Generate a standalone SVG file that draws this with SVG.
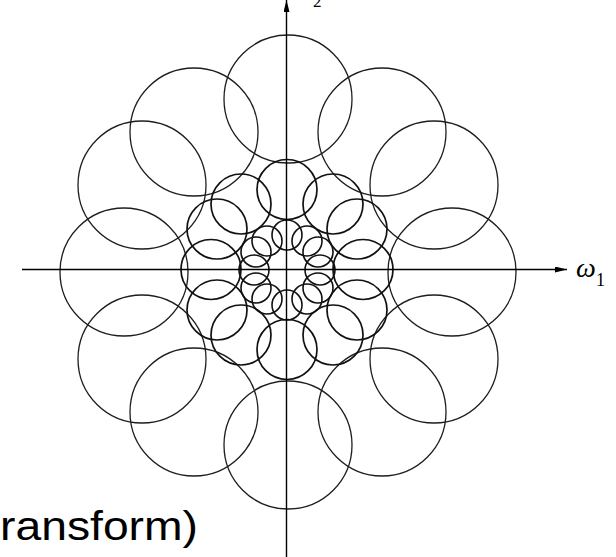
<svg xmlns="http://www.w3.org/2000/svg" width="616" height="557" viewBox="0 0 616 557">
<defs>
<style>
.big{fill:none;stroke:#1e1e1e;stroke-width:1.3}
.mid{fill:none;stroke:#111;stroke-width:1.7}
.sm{fill:none;stroke:#111;stroke-width:1.6}
.ax{stroke:#000;stroke-width:1.4;fill:none}
.lbl{font-family:"Liberation Serif",serif;fill:#000}
</style>
<marker id="ah" viewBox="0 0 12 6" refX="12" refY="3" markerWidth="12" markerHeight="6" markerUnits="userSpaceOnUse" orient="auto">
<path d="M0,0 L12,3 L0,6 Z" fill="#000"/>
</marker>
</defs>
<g id="ring-outer">
<circle class="big" cx="288" cy="99" r="64"/>
<circle class="big" cx="194" cy="132" r="64"/>
<circle class="big" cx="382" cy="132" r="64"/>
<circle class="big" cx="142" cy="185" r="64"/>
<circle class="big" cx="434" cy="185" r="64"/>
<circle class="big" cx="124" cy="272" r="64"/>
<circle class="big" cx="452" cy="272" r="64"/>
<circle class="big" cx="142" cy="359" r="64"/>
<circle class="big" cx="434" cy="359" r="64"/>
<circle class="big" cx="194" cy="412" r="64"/>
<circle class="big" cx="382" cy="412" r="64"/>
<circle class="big" cx="288" cy="445" r="64"/>
</g>
<g id="ring-middle">
<circle class="mid" cx="287" cy="189.5" r="30"/>
<circle class="mid" cx="241" cy="204" r="30"/>
<circle class="mid" cx="333" cy="204" r="30"/>
<circle class="mid" cx="217" cy="229" r="30"/>
<circle class="mid" cx="357" cy="229" r="30"/>
<circle class="mid" cx="211" cy="269.5" r="30"/>
<circle class="mid" cx="363" cy="269.5" r="30"/>
<circle class="mid" cx="217" cy="310" r="30"/>
<circle class="mid" cx="357" cy="310" r="30"/>
<circle class="mid" cx="241" cy="335" r="30"/>
<circle class="mid" cx="333" cy="335" r="30"/>
<circle class="mid" cx="287" cy="349.5" r="30"/>
</g>
<g id="ring-inner">
<circle class="sm" cx="287" cy="235" r="15"/>
<circle class="sm" cx="267" cy="241" r="15"/>
<circle class="sm" cx="307" cy="241" r="15"/>
<circle class="sm" cx="256" cy="252" r="15"/>
<circle class="sm" cx="318" cy="252" r="15"/>
<circle class="sm" cx="254" cy="270" r="15"/>
<circle class="sm" cx="320" cy="270" r="15"/>
<circle class="sm" cx="256" cy="288" r="15"/>
<circle class="sm" cx="318" cy="288" r="15"/>
<circle class="sm" cx="267" cy="299" r="15"/>
<circle class="sm" cx="307" cy="299" r="15"/>
<circle class="sm" cx="287" cy="305" r="15"/>
</g>
<g id="connectors">
<line class="ax" x1="22" y1="269.5" x2="567" y2="269.5" marker-end="url(#ah)"/>
<line class="ax" x1="286.5" y1="557" x2="286.5" y2="0" marker-end="url(#ah)"/>
</g>
<g id="labels">
<text class="lbl" x="576" y="277" font-size="28" font-style="italic">ω</text>
<text class="lbl" x="596" y="285.5" font-size="18">1</text>
<text class="lbl" x="313" y="6.5" font-size="17">2</text>
<text x="0" y="540" font-family="Liberation Sans, Arial, sans-serif" font-size="41" textLength="198" lengthAdjust="spacingAndGlyphs" fill="#000">ransform)</text>
</g>
</svg>
